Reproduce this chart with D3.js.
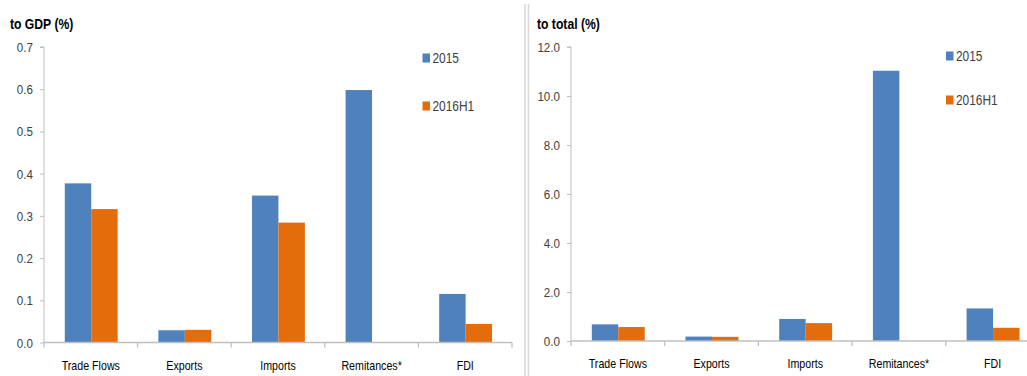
<!DOCTYPE html>
<html>
<head>
<meta charset="utf-8">
<script src="https://cdn.jsdelivr.net/npm/d3@7"></script>
<style>
  html, body { margin: 0; padding: 0; background: #fff; }
  svg { display: block; }
  text { font-family: "Liberation Sans", Arial, sans-serif; }
</style>
</head>
<body>
<svg id="chart" width="1027" height="376"></svg>
<script>
// Categories shared by both panels
const categories = ["Trade Flows", "Exports", "Imports", "Remitances*", "FDI"];
const seriesNames = ["2015", "2016H1"];

// Left panel: share of GDP (%)
const gdp2015   = [0.377, 0.029, 0.348, 0.598, 0.115];
const gdp2016H1 = [0.316, 0.030, 0.284, 0,     0.044];
const gdpTicks  = [0, 0.1, 0.2, 0.3, 0.4, 0.5, 0.6, 0.7];

// Right panel: share of total (%)
const total2015   = [0.68, 0.18, 0.90, 11.03, 1.33];
const total2016H1 = [0.57, 0.17, 0.73, 0,     0.54];
const totalTicks  = [0, 2, 4, 6, 8, 10, 12];

const colors = { "2015": "#4F81BD", "2016H1": "#E46C0A" };
const axisColor = "#BFBFBF";
const labelColor = "#404040";
const fmt = d3.format(".1f");

const svg = d3.select("#chart");

// Text with a horizontal squeeze for a condensed look
function label(parent, x, y, str, opts) {
  const o = Object.assign({ size: 12, sx: 0.9, anchor: "start", weight: "normal", fill: "#000" }, opts);
  return parent.append("text")
    .attr("transform", `translate(${x},${y}) scale(${o.sx},1)`)
    .attr("text-anchor", o.anchor)
    .attr("font-size", o.size)
    .attr("font-weight", o.weight)
    .attr("fill", o.fill)
    .text(str);
}

function drawPanel(cfg) {
  const g = svg.append("g");
  const y = d3.scaleLinear().domain([0, cfg.max]).range([cfg.bottom, cfg.top]);
  const x0 = d3.scaleBand().domain(categories).range([cfg.left, cfg.right]).padding(0);
  const bw = x0.bandwidth();
  const x1 = d3.scaleBand().domain(seriesNames).range([bw * 0.222, bw * 0.787]).padding(0);

  // title
  label(g, cfg.titleX, 29, cfg.title, { size: 14.5, weight: "bold", sx: 0.84 });

  // y axis: line and ticks from the scale
  const ya = g.append("g").attr("transform", `translate(${cfg.left},0)`)
    .call(d3.axisLeft(y).tickValues(cfg.ticks).tickSize(4).tickFormat(""));
  ya.select(".domain").attr("stroke", axisColor).attr("d", `M-4,${cfg.top}H0V${cfg.bottom}`);
  ya.selectAll(".tick line").attr("stroke", axisColor);
  cfg.ticks.forEach(t => {
    label(g, cfg.left - 11, y(t) + 5, fmt(t), { size: 13.5, sx: 0.86, anchor: "end", fill: labelColor });
  });

  // bars
  const rows = categories.map((c, i) => ({ c, vals: [cfg.s1[i], cfg.s2[i]] }));
  const grp = g.selectAll(".grp").data(rows).join("g")
    .attr("transform", d => `translate(${x0(d.c)},0)`);
  grp.selectAll("rect").data(d => d.vals.map((v, k) => ({ k: seriesNames[k], v })))
    .join("rect")
    .attr("x", d => x1(d.k))
    .attr("width", x1.bandwidth())
    .attr("y", d => y(d.v))
    .attr("height", d => y(0) - y(d.v))
    .attr("fill", d => colors[d.k]);

  // x axis with boundary ticks
  const xa = g.append("g").attr("transform", `translate(0,${cfg.bottom})`);
  xa.append("line").attr("x1", cfg.left).attr("x2", cfg.right)
    .attr("stroke", axisColor).attr("stroke-width", 1.3);
  const bounds = categories.map(c => x0(c)).concat([cfg.right]);
  xa.selectAll(".bt").data(bounds).join("line")
    .attr("x1", d => d).attr("x2", d => d).attr("y1", 0).attr("y2", 5)
    .attr("stroke", axisColor).attr("stroke-width", 1.3);
  categories.forEach(c => {
    label(xa, x0(c) + bw / 2, 27, c, { size: 13, sx: 0.82, anchor: "middle" });
  });

  // legend
  seriesNames.forEach((s, i) => {
    const ly = cfg.legendY[i];
    g.append("rect").attr("x", cfg.legendX).attr("y", ly - 4.5).attr("width", 7.5).attr("height", 9)
      .attr("fill", colors[s]);
    label(g, cfg.legendX + 10, ly + 5, s, { size: 14, sx: 0.85, fill: labelColor });
  });
}

drawPanel({
  title: "to GDP (%)", titleX: 10,
  left: 44, right: 512, top: 47, bottom: 342.5, max: 0.7,
  ticks: gdpTicks, s1: gdp2015, s2: gdp2016H1,
  legendX: 422.5, legendY: [58, 106]
});

drawPanel({
  title: "to total (%)", titleX: 537,
  left: 571, right: 1039.5, top: 47, bottom: 341, max: 12,
  ticks: totalTicks, s1: total2015, s2: total2016H1,
  legendX: 946, legendY: [56, 100]
});

// panel divider
svg.append("line").attr("x1", 525).attr("x2", 525).attr("y1", 4).attr("y2", 376)
  .attr("stroke", "#D9D9D9").attr("stroke-width", 1.6);
svg.append("line").attr("x1", 528.5).attr("x2", 528.5).attr("y1", 4).attr("y2", 376)
  .attr("stroke", "#D9D9D9").attr("stroke-width", 1.6);
</script>
</body>
</html>
